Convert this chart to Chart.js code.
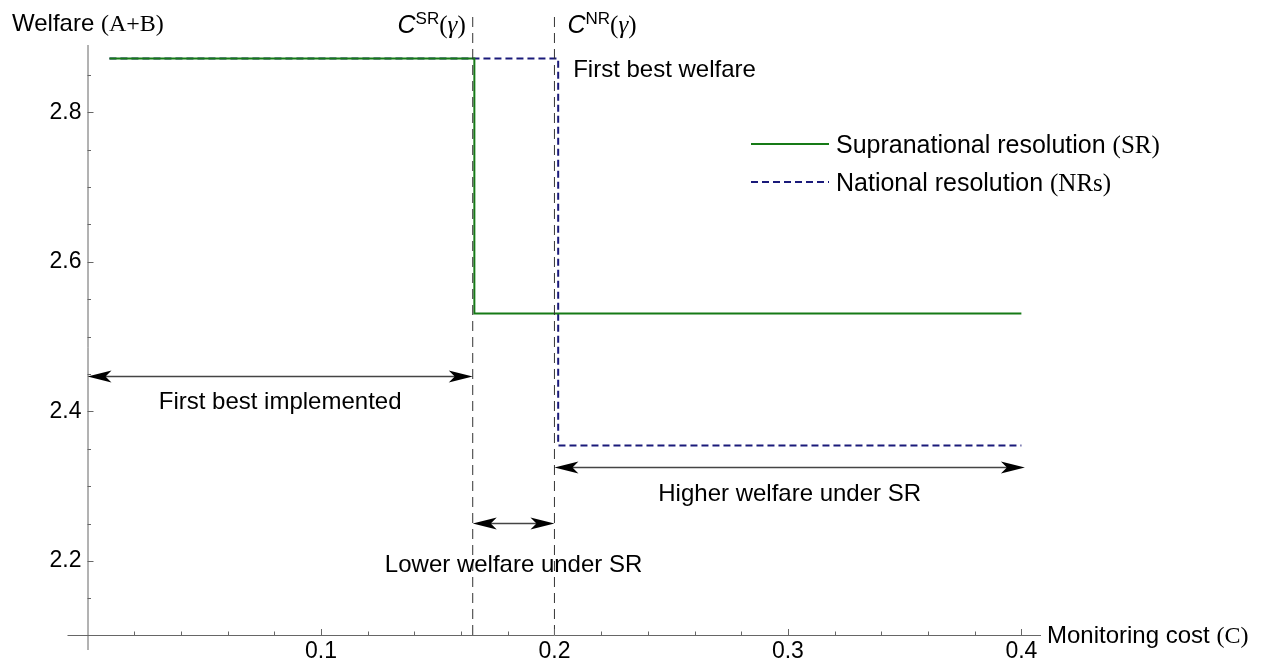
<!DOCTYPE html>
<html>
<head>
<meta charset="utf-8">
<script src="https://cdn.jsdelivr.net/npm/chart.js@4.4.1/dist/chart.umd.min.js"></script>
<style>
  html, body { margin: 0; padding: 0; background: #fff; }
  #wrap { position: relative; width: 1264px; height: 663px; }
</style>
</head>
<body>
<div id="wrap"><canvas id="chart"></canvas></div>
<script>
// welfare step functions
const srCost = [0.0094, 0.1657, 0.1657, 0.4];
const srWelfare = [2.872, 2.872, 2.531, 2.531];
const nrCost = [0.0094, 0.2016, 0.2016, 0.4];
const nrWelfare = [2.872, 2.872, 2.3545, 2.3545];

// cost thresholds C^SR(gamma), C^NR(gamma)
const thresholds = [0.165, 0.2];
const thresholdTags = ["SR", "NR"];

const xTicks = [0.1, 0.2, 0.3, 0.4];
const yTicks = [2.2, 2.4, 2.6, 2.8];

const seriesLabels = ["Supranational resolution ", "National resolution "];
const seriesTags = ["(SR)", "(NRs)"];
const seriesColors = ["#167a16", "#1a1a7a"];

const arrowFrom = [0, 0.165, 0.2];
const arrowTo = [0.165, 0.2, 0.4015];
const arrowAt = [2.448, 2.251, 2.325];
const arrowText = ["First best implemented", "Lower welfare under SR", "Higher welfare under SR"];

const X_MIN = 0, X_MAX = 0.4084;
const Y_MIN = 2.101, Y_MAX = 2.89;

const SANS = '"Liberation Sans", Arial, sans-serif';
const SERIF = '"Liberation Serif", "Times New Roman", serif';
const FS = 24;

function pts(xs, ys) {
  return xs.map((x, i) => ({ x, y: ys[i] }));
}

function rich(ctx, parts, x, y, align) {
  let w = 0;
  for (const p of parts) { ctx.font = p.f; w += ctx.measureText(p.t).width; }
  let cx = align === "right" ? x - w : align === "center" ? x - w / 2 : x;
  ctx.textAlign = "left";
  ctx.textBaseline = "alphabetic";
  for (const p of parts) {
    ctx.font = p.f;
    ctx.fillText(p.t, cx, y - (p.dy || 0));
    cx += ctx.measureText(p.t).width;
  }
}

function head(ctx, x, y, dir) {
  ctx.beginPath();
  ctx.moveTo(x, y);
  ctx.lineTo(x - dir * 24, y - 6);
  ctx.lineTo(x - dir * 18, y);
  ctx.lineTo(x - dir * 24, y + 6);
  ctx.closePath();
  ctx.fill();
}

const extras = {
  id: "extras",
  afterDraw(chart) {
    const { ctx, chartArea: a } = chart;
    const xs = chart.scales.x, ys = chart.scales.y;
    const x0 = xs.getPixelForValue(0);
    const yb = ys.getPixelForValue(Y_MIN);
    ctx.save();

    // axes, mathematica style: they cross and run a bit past each other
    ctx.strokeStyle = "#666";
    ctx.lineWidth = 1;
    ctx.beginPath();
    ctx.moveTo(x0 - 20, yb + 0.5); ctx.lineTo(a.right, yb + 0.5);
    ctx.moveTo(x0 + 0.5, a.top); ctx.lineTo(x0 + 0.5, yb + 15);
    ctx.stroke();

    ctx.beginPath();
    for (let i = 1; i <= 20; i++) {
      const v = i * 0.02;
      const px = Math.round(xs.getPixelForValue(v)) + 0.5;
      const len = i % 5 === 0 ? 6 : 3.5;
      ctx.moveTo(px, yb); ctx.lineTo(px, yb - len);
    }
    for (let i = 43; i <= 57; i++) {
      const v = i * 0.05;
      const py = Math.round(ys.getPixelForValue(v)) + 0.5;
      const len = i % 4 === 0 ? 6 : 3.5;
      ctx.moveTo(x0, py); ctx.lineTo(x0 + len, py);
    }
    ctx.stroke();

    ctx.fillStyle = "#000";
    const f = FS + "px " + SANS;
    const fs = FS + "px " + SERIF;

    // axis titles
    rich(ctx, [{ t: "Welfare ", f }, { t: "(A+B)", f: fs }], 12, 31, "left");
    rich(ctx, [{ t: "Monitoring cost ", f }, { t: "(C)", f: fs }], a.right + 6, yb + 8, "left");

    // threshold labels
    thresholds.forEach((t, i) => {
      const px = xs.getPixelForValue(t);
      const parts = [
        { t: "C", f: "italic 25px " + SANS },
        { t: thresholdTags[i], f: "17px " + SANS, dy: 9 },
        { t: "(", f: "25px " + SERIF },
        { t: "\u03b3", f: "italic 25px " + SERIF },
        { t: ")", f: "25px " + SERIF }
      ];
      if (i === 0) rich(ctx, parts, px - 7, 33, "right");
      else rich(ctx, parts, px + 13, 33, "left");
    });

    rich(ctx, [{ t: "First best welfare", f }],
      xs.getPixelForValue(nrCost[1]) + 15, ys.getPixelForValue(nrWelfare[0]) + 19, "left");

    // legend
    const lf = "25px " + SANS, lfs = "25px " + SERIF;
    seriesLabels.forEach((lab, i) => {
      const ly = 144 + i * 38;
      ctx.strokeStyle = seriesColors[i];
      ctx.lineWidth = 2;
      ctx.setLineDash(i === 1 ? [7, 4] : []);
      ctx.beginPath();
      ctx.moveTo(751, ly); ctx.lineTo(829, ly);
      ctx.stroke();
      ctx.setLineDash([]);
      rich(ctx, [{ t: lab, f: lf }, { t: seriesTags[i], f: lfs }], 836, ly + 9, "left");
    });

    // arrows
    const textGap = [32, 48, 33];
    arrowFrom.forEach((v, i) => {
      const p1 = xs.getPixelForValue(v);
      const p2 = xs.getPixelForValue(arrowTo[i]);
      const py = Math.round(ys.getPixelForValue(arrowAt[i])) + 0.5;
      ctx.strokeStyle = "#444";
      ctx.lineWidth = 1.5;
      ctx.beginPath();
      ctx.moveTo(p1 + 8, py); ctx.lineTo(p2 - 8, py);
      ctx.stroke();
      ctx.fillStyle = "#000";
      head(ctx, p1, py, -1);
      head(ctx, p2, py, 1);
      rich(ctx, [{ t: arrowText[i], f }], (p1 + p2) / 2, py + textGap[i], "center");
    });

    ctx.restore();
  }
};

const thresholdSets = thresholds.map(t => ({
  label: "threshold",
  data: [{ x: t, y: Y_MIN }, { x: t, y: 2.935 }],
  showLine: true,
  borderColor: "#333",
  borderWidth: 1,
  borderDash: [10, 6],
  pointRadius: 0,
  clip: false
}));

new Chart(document.getElementById("chart"), {
  type: "scatter",
  data: {
    datasets: [
      ...thresholdSets,
      {
        label: seriesLabels[0],
        data: pts(srCost, srWelfare),
        showLine: true,
        borderColor: seriesColors[0],
        borderWidth: 2,
        pointRadius: 0
      },
      {
        label: seriesLabels[1],
        data: pts(nrCost, nrWelfare),
        showLine: true,
        borderColor: seriesColors[1],
        borderWidth: 2,
        borderDash: [7, 4],
        pointRadius: 0
      }
    ]
  },
  options: {
    responsive: true,
    maintainAspectRatio: false,
    animation: false,
    layout: { padding: { left: 12.5, right: 223, top: 45, bottom: 0 } },
    plugins: {
      legend: { display: false },
      tooltip: { enabled: false }
    },
    scales: {
      x: {
        type: "linear",
        min: X_MIN,
        max: X_MAX,
        position: "bottom",
        grid: { display: false, drawTicks: false },
        border: { display: false },
        ticks: {
          padding: 3,
          color: "#000",
          font: { family: SANS, size: 23 },
          callback: v => v.toFixed(1)
        },
        afterBuildTicks: s => { s.ticks = xTicks.map(v => ({ value: v })); },
        afterFit: s => { s.height = 28; }
      },
      y: {
        type: "linear",
        min: Y_MIN,
        max: Y_MAX,
        position: "left",
        grid: { display: false, drawTicks: false },
        border: { display: false },
        ticks: {
          padding: 6,
          color: "#000",
          font: { family: SANS, size: 23 },
          callback: v => v.toFixed(1)
        },
        afterBuildTicks: s => { s.ticks = yTicks.map(v => ({ value: v })); },
        afterFit: s => { s.width = 75; }
      }
    }
  },
  plugins: [extras]
});
</script>
</body>
</html>
